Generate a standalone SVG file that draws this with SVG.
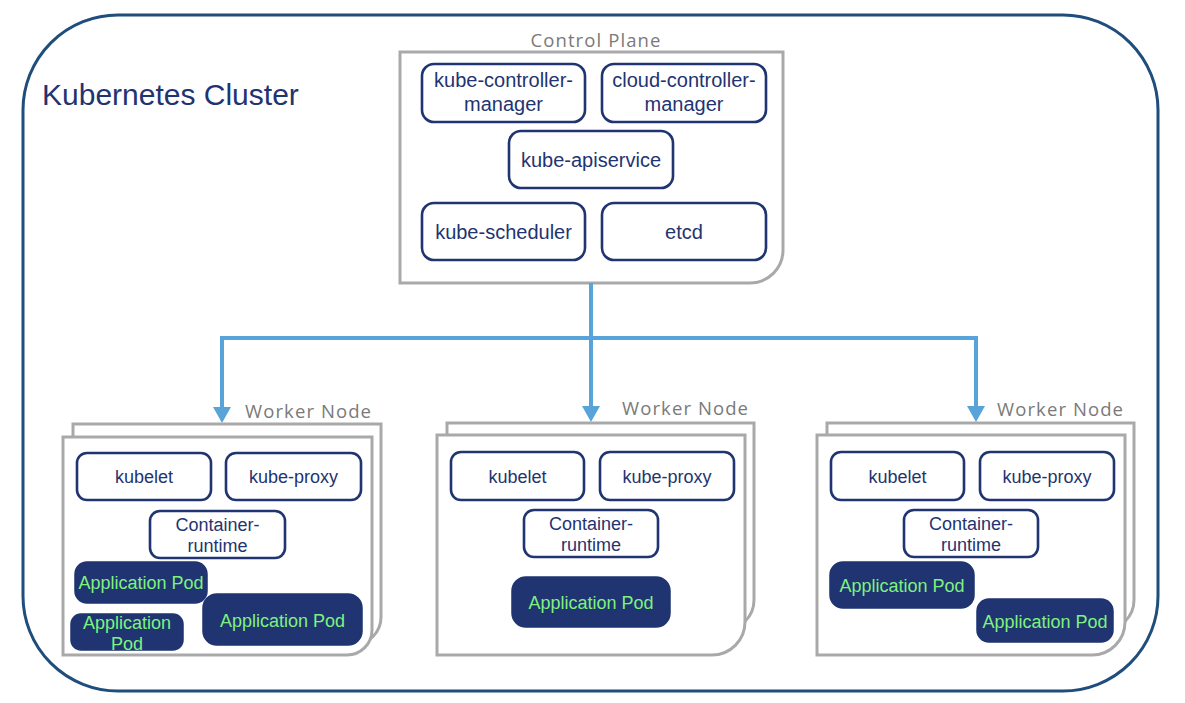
<svg xmlns="http://www.w3.org/2000/svg" width="1185" height="703" viewBox="0 0 1185 703">
<defs>
<style>
.cluster{fill:#ffffff;stroke:#1f4e7d;stroke-width:3}
.sheet{fill:#ffffff;stroke:#a9a9a9;stroke-width:3}
.box{fill:#ffffff;stroke:#1f3470;stroke-width:2.6}
.pod{fill:#1f3470;stroke:#1f3470;stroke-width:1.5}
.t{font-family:"Liberation Sans",Arial,sans-serif;fill:#1f3470;text-anchor:middle}
.tb{font-size:20px}
.ts{font-size:18px}
.tp{font-family:"Liberation Sans",Arial,sans-serif;fill:#7ef27e;font-size:18px;text-anchor:middle}
.lbl{font-family:"Open Sans","Liberation Sans",sans-serif;fill:#7a7a7a;font-size:18.5px;letter-spacing:1.1px}
.conn{fill:none;stroke:#58a3d7;stroke-width:4}
</style>
<marker id="arr" viewBox="0 0 16 18" refX="0" refY="9" markerWidth="16" markerHeight="18" markerUnits="userSpaceOnUse" orient="auto">
<path d="M0,0 L16,9 L0,18 Z" fill="#58a3d7"/>
</marker>
</defs>
<rect width="1185" height="703" fill="#ffffff"/>

<g id="cluster">
<rect class="cluster" x="23" y="15" width="1135" height="676" rx="95" ry="95"/>
<text class="t" x="42" y="105" style="font-size:30px;text-anchor:start">Kubernetes Cluster</text>
</g>

<g id="control-plane">
<path class="sheet" d="M400,52 H783 V250 A33,33 0 0 1 750,283 H400 Z"/>
<text class="lbl" x="596" y="47" text-anchor="middle">Control Plane</text>
</g>
<g id="kube-controller-manager">
<rect class="box" x="422" y="64" width="163" height="58" rx="12"/>
<text class="t tb" x="503.5" y="87">kube-controller-</text>
<text class="t tb" x="503.5" y="111">manager</text>
</g>
<g id="cloud-controller-manager">
<rect class="box" x="602" y="64" width="164" height="58" rx="12"/>
<text class="t tb" x="684" y="87">cloud-controller-</text>
<text class="t tb" x="684" y="111">manager</text>
</g>
<g id="kube-apiservice">
<rect class="box" x="509" y="131" width="164" height="57" rx="12"/>
<text class="t tb" x="591" y="167">kube-apiservice</text>
</g>
<g id="kube-scheduler">
<rect class="box" x="422" y="203" width="163" height="57" rx="12"/>
<text class="t tb" x="503.5" y="239">kube-scheduler</text>
</g>
<g id="etcd">
<rect class="box" x="602" y="203" width="164" height="57" rx="12"/>
<text class="t tb" x="684" y="239">etcd</text>
</g>

<g id="connectors">
<path class="conn" d="M591,283 V406" marker-end="url(#arr)"/>
<path class="conn" d="M591,338 H222 V407" marker-end="url(#arr)"/>
<path class="conn" d="M591,338 H976 V406" marker-end="url(#arr)"/>
</g>

<g id="worker-node-1">
<path class="sheet" d="M73,424 H381 V617 A28,28 0 0 1 353,645 H73 Z"/>
<path class="sheet" d="M63,437 H372 V630 A25,25 0 0 1 347,655 H63 Z"/>
<text class="lbl" x="245" y="418">Worker Node</text>
<rect class="box" x="77" y="453" width="134" height="47" rx="10"/>
<text class="t ts" x="144" y="483">kubelet</text>
<rect class="box" x="226" y="453" width="135" height="47" rx="10"/>
<text class="t ts" x="293.5" y="483">kube-proxy</text>
<rect class="box" x="150" y="511" width="135" height="47" rx="10"/>
<text class="t ts" x="217.5" y="531">Container-</text>
<text class="t ts" x="217.5" y="552">runtime</text>
<rect class="pod" x="75" y="562" width="132" height="41" rx="12"/>
<text class="tp" x="141" y="589">Application Pod</text>
<rect class="pod" x="203" y="594" width="159" height="51" rx="14"/>
<text class="tp" x="282.5" y="627">Application Pod</text>
<rect class="pod" x="71" y="614" width="112" height="36" rx="10"/>
<text class="tp" x="127" y="629">Application</text>
<text class="tp" x="127" y="650">Pod</text>
</g>

<g id="worker-node-2">
<path class="sheet" d="M447,423 H754 V600 A30,30 0 0 1 724,630 H447 Z"/>
<path class="sheet" d="M437,435 H745 V622 A33,33 0 0 1 712,655 H437 Z"/>
<text class="lbl" x="622" y="415">Worker Node</text>
<rect class="box" x="451" y="452" width="133" height="48" rx="10"/>
<text class="t ts" x="517.5" y="483">kubelet</text>
<rect class="box" x="600" y="452" width="134" height="48" rx="10"/>
<text class="t ts" x="667" y="483">kube-proxy</text>
<rect class="box" x="524" y="510" width="134" height="47" rx="10"/>
<text class="t ts" x="591" y="530">Container-</text>
<text class="t ts" x="591" y="551">runtime</text>
<rect class="pod" x="512" y="577" width="158" height="50" rx="14"/>
<text class="tp" x="591" y="609">Application Pod</text>
</g>

<g id="worker-node-3">
<path class="sheet" d="M827,423 H1134 V600 A30,30 0 0 1 1104,630 H827 Z"/>
<path class="sheet" d="M817,435 H1125 V622 A33,33 0 0 1 1092,655 H817 Z"/>
<text class="lbl" x="997" y="416">Worker Node</text>
<rect class="box" x="831" y="452" width="133" height="48" rx="10"/>
<text class="t ts" x="897.5" y="483">kubelet</text>
<rect class="box" x="980" y="452" width="134" height="48" rx="10"/>
<text class="t ts" x="1047" y="483">kube-proxy</text>
<rect class="box" x="904" y="510" width="134" height="47" rx="10"/>
<text class="t ts" x="971" y="530">Container-</text>
<text class="t ts" x="971" y="551">runtime</text>
<rect class="pod" x="830" y="562" width="144" height="46" rx="13"/>
<text class="tp" x="902" y="592">Application Pod</text>
<rect class="pod" x="977" y="599" width="136" height="43" rx="12"/>
<text class="tp" x="1045" y="628">Application Pod</text>
</g>
</svg>
